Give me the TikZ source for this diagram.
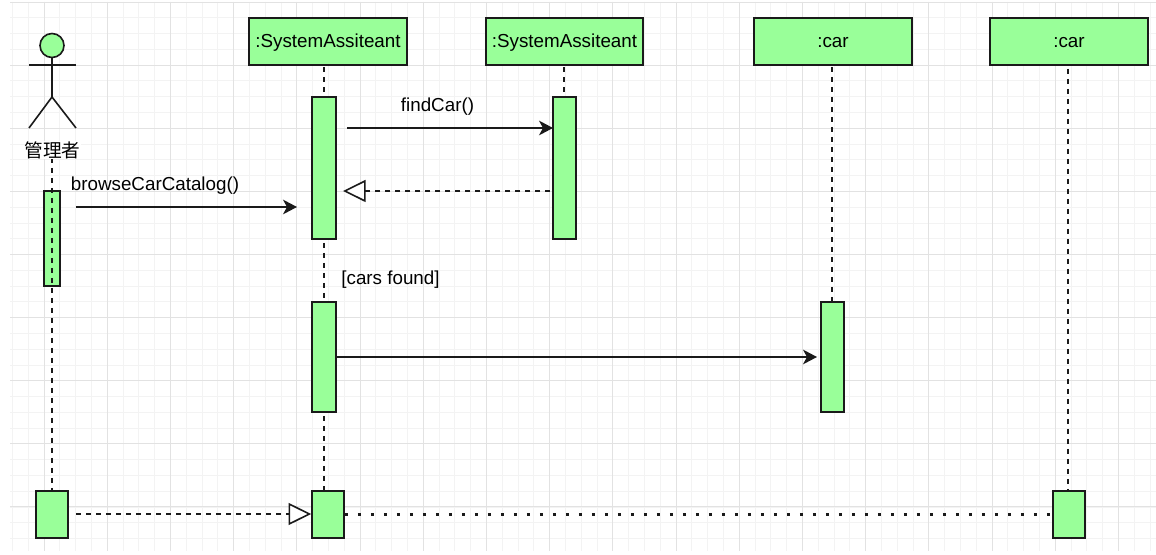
\documentclass[tikz,border=0pt]{standalone}
\usepackage{fontspec}
\setmainfont{Liberation Sans}
\newfontfamily\cjkfont{Noto Sans CJK SC}
\usetikzlibrary{arrows.meta}
\definecolor{fillgreen}{HTML}{99FF99}
\definecolor{inkline}{HTML}{1A1A1A}
\definecolor{gridminor}{HTML}{F3F3F3}
\definecolor{gridmajor}{HTML}{E2E2E2}
\tikzset{
  x=0.75pt,y=-0.75pt,
  headbox/.style={draw=inkline,fill=fillgreen,line width=1.3pt,minimum width=118pt,minimum height=35.25pt,inner sep=0pt,text height=9.5pt,text depth=0pt,font=\fontsize{14.1pt}{16pt}\selectfont},
  barbox/.style={draw=inkline,fill=fillgreen,line width=1.2pt,inner sep=0pt},
  lifeline/.style={draw=inkline,line width=1.3pt,dash pattern=on 4pt off 3.5pt},
  call/.style={draw=inkline,line width=1.2pt,-{Stealth[length=10.5pt,width=11pt,inset=3pt]}},
  reply/.style={draw=inkline,line width=1.2pt,dash pattern=on 4pt off 3.5pt,-{Triangle[open,fill=white,length=17pt,width=16.5pt,line width=1.2pt]}},
  dotline/.style={draw=inkline,line width=2.25pt,dash pattern=on 2.25pt off 7.5pt},
  lbl/.style={font=\fontsize{14.1pt}{16pt}\selectfont,inner sep=0pt,text=black},
  limb/.style={draw=inkline,line width=1.2pt},
}
\newcommand{\barnode}[5]{\node[barbox,minimum width=#4*0.75pt,minimum height=#5*0.75pt] (#1) at (#2,#3) {};}
\begin{document}
\begin{tikzpicture}
\useasboundingbox (0,0) rectangle (1156,555);
\fill[white] (0,0) rectangle (1156,555);
% grid
\foreach \i in {0,...,72}{\pgfmathsetmacro\xx{12.4+15.8*\i}\draw[gridminor,line width=0.6pt] (\xx,2) -- (\xx,551);}
\foreach \i in {0,...,34}{\pgfmathsetmacro\yy{2+15.78*\i}\draw[gridminor,line width=0.6pt] (10,\yy) -- (1156,\yy);}
\foreach \i in {0,...,17}{\pgfmathsetmacro\xx{44+63.2*\i}\draw[gridmajor,line width=0.6pt] (\xx,2) -- (\xx,551);}
\foreach \i in {0,...,8}{\pgfmathsetmacro\yy{2+63.1*\i}\draw[gridmajor,line width=0.6pt] (10,\yy) -- (1156,\yy);}
% lifeline ends
\coordinate (actorfoot) at (52,158);
% headers
\node[headbox] (h1) at (328,41.5) {:SystemAssiteant};
\node[headbox] (h2) at (564.5,41.5) {:SystemAssiteant};
\node[headbox] (h3) at (833,41.5) {:car};
\node[headbox] (h4) at (1069,41.5) {:car};
% bottom bars
\barnode{ba}{52}{514.5}{32}{47}
\barnode{bb}{328}{514.5}{32}{47}
\barnode{bc}{1069}{514.5}{32}{47}
% lifelines
\coordinate (l1a) at (324,67);
\coordinate (l1b) at (324,97);
\coordinate (l1c) at (324,243);
\coordinate (l1d) at (324,302);
\coordinate (l1e) at (324,416);
\coordinate (l1f) at (324,491);
\draw[lifeline] (l1a) -- (l1b);
\draw[lifeline] (l1c) -- (l1d);
\draw[lifeline] (l1e) -- (l1f);
\coordinate (l2a) at (564,67);
\coordinate (l2b) at (564,97);
\draw[lifeline] (l2a) -- (l2b);
\coordinate (l3a) at (832,67);
\coordinate (l3b) at (832,302);
\draw[lifeline] (l3a) -- (l3b);
\coordinate (l4a) at (1068,69);
\coordinate (l4b) at (1068,491);
\draw[lifeline] (l4a) -- (l4b);
% activation bars
\barnode{a0}{52}{238.5}{16}{95}
\barnode{a1}{324}{168}{24}{142}
\barnode{a2}{564.5}{168}{23}{142}
\barnode{a3}{324}{357}{24}{110}
\barnode{a4}{832.5}{357}{23}{110}
% actor lifeline
\coordinate (actorend) at (52,491);
\draw[lifeline] (actorfoot) -- (actorend);
% actor
\draw[limb,fill=fillgreen] (52,45.5) circle[radius=12] coordinate (head);
\coordinate (neck) at (52,57.5);
\coordinate (hip) at (52,97);
\coordinate (larm) at (29,65);
\coordinate (rarm) at (76,65);
\coordinate (lleg) at (29,128);
\coordinate (rleg) at (76,128);
\draw[limb] (neck) -- (hip);
\draw[limb] (larm) -- (rarm);
\draw[limb] (lleg) -- (hip) -- (rleg);
\node[lbl,font=\fontsize{14pt}{16pt}\cjkfont,fill=white,inner sep=0pt] (actorlabel) at (52.5,150) {管理者};
% messages
\coordinate (m1s) at (347,128);
\coordinate (m1e) at (553,128);
\draw[call] (m1s) -- (m1e);
\coordinate (m2s) at (550,191);
\coordinate (m2e) at (343,191);
\draw[reply] (m2s) -- (m2e);
\coordinate (m3s) at (76,207);
\coordinate (m3e) at (297,207);
\draw[call] (m3s) -- (m3e);
\coordinate (m4s) at (336,357);
\coordinate (m4e) at (817,357);
\draw[call] (m4s) -- (m4e);
\coordinate (m5s) at (76,514);
\draw[reply] (m5s) -- (m5s -| bb.west);
\draw[dotline] (m5s -| bb.east) -- (m5s -| bc.west);
% labels
\node[lbl,anchor=base] (t1) at (437.5,111.7) {findCar()};
\node[lbl,anchor=base] (t2) at (155,190.7) {browseCarCatalog()};
\node[lbl,anchor=base] (t3) at (390.5,284.7) {[cars found]};
\end{tikzpicture}
\end{document}
